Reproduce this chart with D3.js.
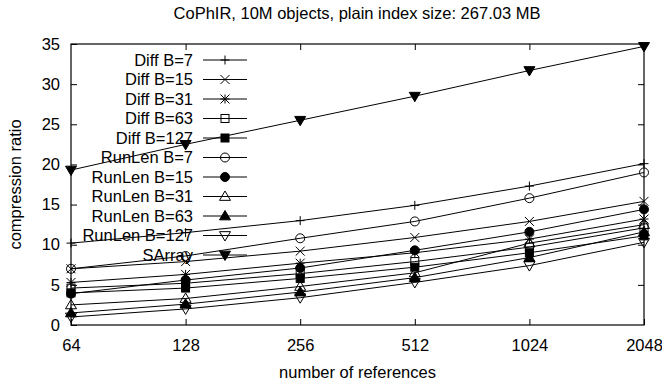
<!DOCTYPE html>
<html>
<head>
<meta charset="utf-8">
<script src="https://cdn.jsdelivr.net/npm/d3@7"></script>
<style>
  body { margin: 0; background: #fff; }
  text { font-family: "Liberation Sans", Arial, sans-serif; fill: #000; }
</style>
</head>
<body>
<script>
// data
var refs = [64, 128, 256, 512, 1024, 2048];
var yTicks = [0, 5, 10, 15, 20, 25, 30, 35];

var diff7   = [10.2, 11.5, 13.0, 14.9, 17.3, 20.1];
var diff15  = [7.0, 7.9, 9.2, 10.9, 12.9, 15.4];
var diff31  = [5.3, 6.3, 7.7, 9.0, 10.7, 13.2];
var diff63  = [4.6, 5.2, 6.4, 7.9, 9.7, 12.1];
var diff127 = [4.0, 4.6, 5.8, 7.2, 9.0, 11.1];
var run7    = [7.0, 8.6, 10.8, 12.9, 15.8, 19.0];
var run15   = [3.9, 5.6, 7.1, 9.3, 11.6, 14.4];
var run31   = [2.5, 3.3, 4.8, 6.5, 10.2, 12.5];
var run63   = [1.5, 2.6, 4.1, 5.9, 8.4, 11.6];
var run127  = [1.0, 2.0, 3.4, 5.3, 7.4, 10.3];
var sarray  = [19.3, 22.5, 25.5, 28.5, 31.7, 34.7];

var names = ["Diff B=7", "Diff B=15", "Diff B=31", "Diff B=63", "Diff B=127",
             "RunLen B=7", "RunLen B=15", "RunLen B=31", "RunLen B=63", "RunLen B=127", "SArray"];
var symbols = ["plus", "cross", "star", "square", "squareF",
               "circle", "circleF", "triUp", "triUpF", "triDown", "triDownF"];
var series = [diff7, diff15, diff31, diff63, diff127, run7, run15, run31, run63, run127, sarray];

// margin
var margin = {top: 44, right: 18, bottom: 58, left: 71},
    W = 662, H = 383,
    width = W - margin.left - margin.right,
    height = H - margin.top - margin.bottom;

var fs = "16.5px";

var x = d3.scaleLog().base(2).domain([64, 2048]).range([0, width]);
var y = d3.scaleLinear().domain([0, 35]).range([height, 0]);

var svg = d3.select("body").append("svg")
    .attr("width", W)
    .attr("height", H);

svg.append("text")
    .attr("x", 357).attr("y", 19)
    .attr("text-anchor", "middle")
    .style("font-size", fs)
    .text("CoPhIR, 10M objects, plain index size: 267.03 MB");

var g = svg.append("g")
    .attr("transform", "translate(" + margin.left + "," + margin.top + ")");

// axes, ticks pointing inward, mirrored
var tk = 6;
g.append("g")
    .call(d3.axisLeft(y).tickValues(yTicks).tickSize(-tk).tickPadding(tk + 5))
    .call(function(a) { a.select(".domain").remove(); });
g.append("g")
    .attr("transform", "translate(" + width + ",0)")
    .call(d3.axisRight(y).tickValues(yTicks.slice(1, -1)).tickSize(-tk).tickFormat(""))
    .call(function(a) { a.select(".domain").remove(); });
g.append("g")
    .attr("transform", "translate(0," + height + ")")
    .call(d3.axisBottom(x).tickValues(refs).tickSize(-tk).tickPadding(tk + 8).tickFormat(d3.format("d")))
    .call(function(a) { a.select(".domain").remove(); });
g.append("g")
    .call(d3.axisTop(x).tickValues(refs.slice(1, -1)).tickSize(-tk).tickFormat(""))
    .call(function(a) { a.select(".domain").remove(); });
g.selectAll(".tick text").style("font-size", fs).attr("font-family", null);
g.selectAll(".tick line").attr("stroke", "#000");

g.append("rect")
    .attr("width", width).attr("height", height)
    .attr("fill", "none").attr("stroke", "#000").attr("stroke-width", 1.2);

svg.append("text")
    .attr("x", margin.left + width / 2).attr("y", 378)
    .attr("text-anchor", "middle")
    .style("font-size", fs)
    .text("number of references");

svg.append("text")
    .attr("transform", "translate(21," + (margin.top + height / 2) + ") rotate(-90)")
    .attr("text-anchor", "middle")
    .style("font-size", fs)
    .text("compression ratio");

// point symbols
function drawSymbol(sel, type, cx, cy) {
  var s = 4.5, tri = 5.5;
  var p = sel.append("g").attr("transform", "translate(" + cx + "," + cy + ")")
      .attr("stroke", "#000").attr("stroke-width", 1);
  if (type === "plus" || type === "star") {
    p.append("path").attr("d", "M" + (-s) + ",0H" + s + "M0," + (-s) + "V" + s);
  }
  if (type === "cross" || type === "star") {
    p.append("path").attr("d", "M" + (-s) + "," + (-s) + "L" + s + "," + s + "M" + (-s) + "," + s + "L" + s + "," + (-s));
  }
  if (type === "square" || type === "squareF") {
    p.append("rect").attr("x", -4).attr("y", -4).attr("width", 8).attr("height", 8)
      .attr("fill", type === "squareF" ? "#000" : "none");
  }
  if (type === "circle" || type === "circleF") {
    p.append("circle").attr("r", 4.5).attr("fill", type === "circleF" ? "#000" : "none");
  }
  if (type === "triUp" || type === "triUpF") {
    p.append("path").attr("d", "M0," + (-tri) + "L" + tri + "," + (tri * 0.7) + "L" + (-tri) + "," + (tri * 0.7) + "Z")
      .attr("fill", type === "triUpF" ? "#000" : "none");
  }
  if (type === "triDown" || type === "triDownF") {
    p.append("path").attr("d", "M0," + tri + "L" + tri + "," + (-tri * 0.7) + "L" + (-tri) + "," + (-tri * 0.7) + "Z")
      .attr("fill", type === "triDownF" ? "#000" : "none");
  }
}

var line = d3.line()
    .x(function(d, i) { return x(refs[i]); })
    .y(function(d) { return y(d); });

var keyX = 122, keyY = 16, keyStep = 19.5;

series.forEach(function(vals, k) {
  // key entry
  var ky = keyY + k * keyStep;
  g.append("text")
    .attr("x", keyX).attr("y", ky).attr("dy", "0.35em")
    .attr("text-anchor", "end")
    .style("font-size", fs)
    .text(names[k]);
  g.append("line")
    .attr("x1", keyX + 10).attr("x2", keyX + 54)
    .attr("y1", ky).attr("y2", ky)
    .attr("stroke", "#000");
  drawSymbol(g, symbols[k], keyX + 32, ky);

  // series
  g.append("path")
    .datum(vals)
    .attr("d", line)
    .attr("fill", "none")
    .attr("stroke", "#000")
    .attr("stroke-width", 1);
  vals.forEach(function(v, i) {
    drawSymbol(g, symbols[k], x(refs[i]), y(v));
  });
});
</script>
</body>
</html>
